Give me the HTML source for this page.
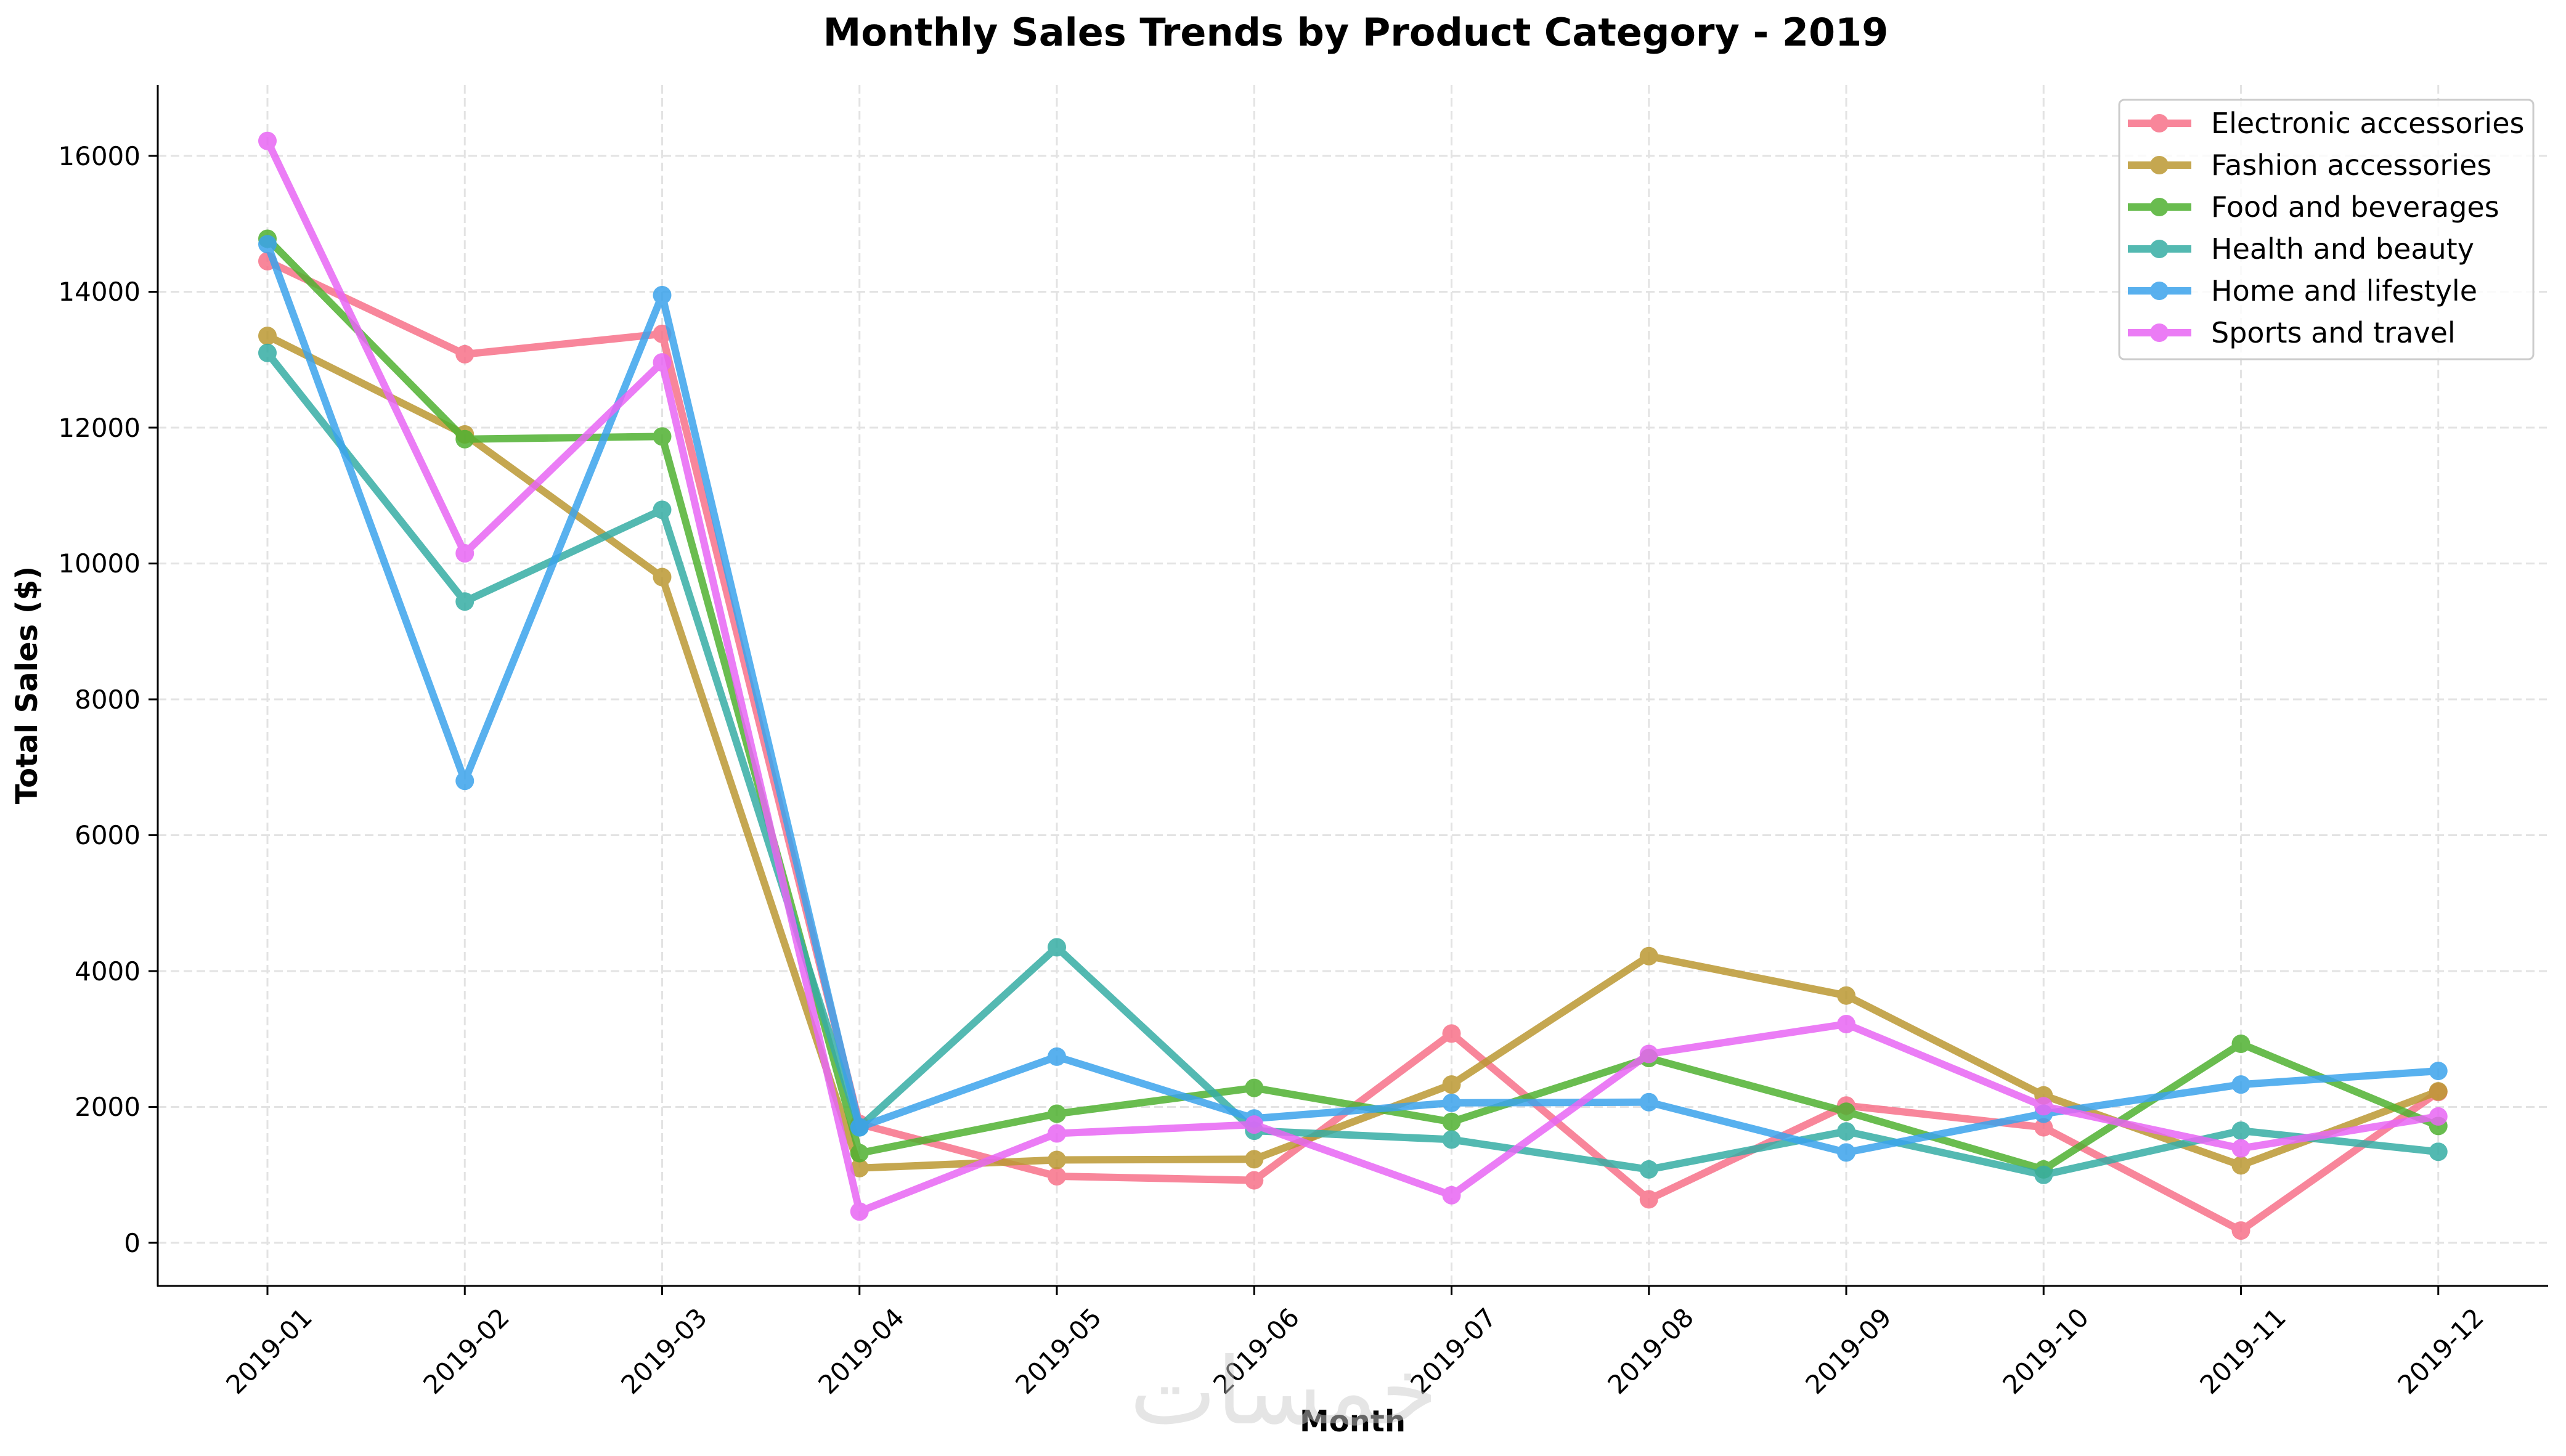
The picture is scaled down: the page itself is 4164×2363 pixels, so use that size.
<!DOCTYPE html>
<html><head><meta charset="utf-8"><style>html,body{margin:0;padding:0;background:#fff}svg{display:block}</style></head>
<body>
<svg id="s" width="4164" height="2363" viewBox="0 0 4164 2363" xmlns="http://www.w3.org/2000/svg" font-family="DejaVu Sans, Liberation Sans, sans-serif">
<rect width="4164" height="2363" fill="#fff"/>
<g id="grid" stroke="#dddddd" stroke-width="3" stroke-dasharray="14,7" opacity="0.8"></g>
<text x="2200" y="74" font-size="62" font-weight="bold" text-anchor="middle">Monthly Sales Trends by Product Category - 2019</text>
<g id="series"></g>
<line x1="256" y1="138" x2="256" y2="2088" stroke="#000" stroke-width="3"/>
<line x1="255" y1="2087" x2="4135" y2="2087" stroke="#000" stroke-width="3"/>
<g id="ticks" stroke="#000" stroke-width="3"></g>
<g font-size="42" text-anchor="end">
<text x="228" y="2032">0</text>
<text x="228" y="1811">2000</text>
<text x="228" y="1591">4000</text>
<text x="228" y="1370">6000</text>
<text x="228" y="1150">8000</text>
<text x="228" y="929">10000</text>
<text x="228" y="709">12000</text>
<text x="228" y="488">14000</text>
<text x="228" y="268">16000</text>
</g>
<g font-size="42" text-anchor="middle">
<text transform="translate(437,2193) rotate(-45)" dy="14">2019-01</text>
<text transform="translate(757,2193) rotate(-45)" dy="14">2019-02</text>
<text transform="translate(1078,2193) rotate(-45)" dy="14">2019-03</text>
<text transform="translate(1398,2193) rotate(-45)" dy="14">2019-04</text>
<text transform="translate(1718,2193) rotate(-45)" dy="14">2019-05</text>
<text transform="translate(2039,2193) rotate(-45)" dy="14">2019-06</text>
<text transform="translate(2359,2193) rotate(-45)" dy="14">2019-07</text>
<text transform="translate(2679,2193) rotate(-45)" dy="14">2019-08</text>
<text transform="translate(3000,2193) rotate(-45)" dy="14">2019-09</text>
<text transform="translate(3320,2193) rotate(-45)" dy="14">2019-10</text>
<text transform="translate(3640,2193) rotate(-45)" dy="14">2019-11</text>
<text transform="translate(3961,2193) rotate(-45)" dy="14">2019-12</text>
</g>
<text x="2195" y="2323" font-size="48" font-weight="bold" text-anchor="middle">Month</text>
<text transform="translate(60,1112) rotate(-90)" font-size="48" font-weight="bold" text-anchor="middle">Total Sales ($)</text>
<text x="2083" y="2310" font-size="150" fill="#cccccc" opacity="0.5" text-anchor="middle" font-family="DejaVu Sans, Noto Sans CJK SC, sans-serif">خمسات</text>
<rect x="3439" y="162" width="672" height="421" rx="8" fill="#fff" fill-opacity="0.8" stroke="#cccccc" stroke-width="3"/>
<g id="leg"></g>
<g font-size="46">
<text x="3588" y="216">Electronic accessories</text>
<text x="3588" y="284">Fashion accessories</text>
<text x="3588" y="352">Food and beverages</text>
<text x="3588" y="420">Health and beauty</text>
<text x="3588" y="488">Home and lifestyle</text>
<text x="3588" y="556">Sports and travel</text>
</g>
</svg>
<script>
const NS="http://www.w3.org/2000/svg";
const X=i=>434+i*320.25, Y=v=>2017-v*0.11025;
function el(t,a,p){const e=document.createElementNS(NS,t);for(const k in a)e.setAttribute(k,a[k]);p.appendChild(e);return e;}
const g=document.getElementById('grid'),tk=document.getElementById('ticks');
for(let i=0;i<12;i++){el('line',{x1:X(i),y1:138,x2:X(i),y2:2087},g);el('line',{x1:X(i),y1:2087,x2:X(i),y2:2102},tk);}
for(let v=0;v<=16000;v+=2000){el('line',{x1:256,y1:Y(v),x2:4133,y2:Y(v)},g);el('line',{x1:241,y1:Y(v),x2:256,y2:Y(v)},tk);}
const D=[
["#f77189",[14450,13080,13380,1750,980,920,3080,640,2020,1700,180,2220]],
["#bb9832",[13350,11900,9800,1100,1220,1230,2330,4220,3640,2170,1140,2230]],
["#50b131",[14780,11830,11870,1320,1900,2280,1780,2720,1930,1080,2930,1720]],
["#36ada4",[13100,9440,10790,1700,4350,1650,1520,1080,1640,1000,1650,1340]],
["#3ba3ec",[14700,6800,13950,1700,2740,1830,2060,2070,1330,1900,2330,2530]],
["#e866f4",[16220,10150,12960,460,1610,1740,700,2780,3220,2010,1390,1860]]];
const s=document.getElementById('series'),lg=document.getElementById('leg');
D.forEach(([c,v],k)=>{
 const gg=el('g',{opacity:0.85},s);
 el('polyline',{points:v.map((y,i)=>X(i)+','+Y(y)).join(' '),fill:'none',stroke:c,'stroke-width':12,'stroke-linejoin':'round'},gg);
 v.forEach((y,i)=>el('circle',{cx:X(i),cy:Y(y),r:15,fill:c},gg));
 const yy=200+k*68;const lgg=el('g',{opacity:0.85},lg);
 el('line',{x1:3453,y1:yy,x2:3556,y2:yy,stroke:c,'stroke-width':12},lgg);
 el('circle',{cx:3504,cy:yy,r:15,fill:c},lgg);
});
</script>
</body></html>
